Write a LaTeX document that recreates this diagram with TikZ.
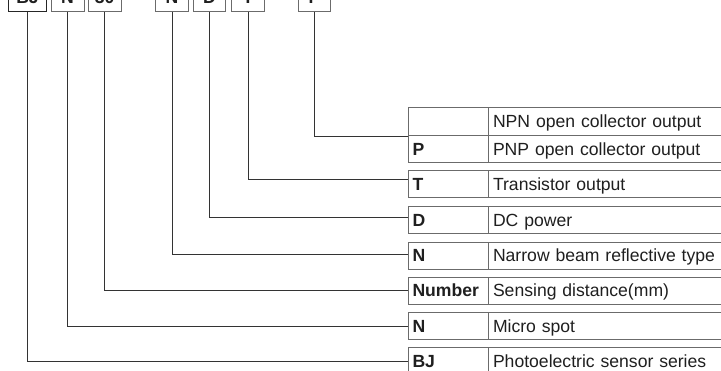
\documentclass[tikz,border=0pt]{standalone}
\usepackage{fontspec}
\setmainfont{Liberation Sans}
\newcommand\labelsize{\fontsize{17.6}{20}\selectfont}
\begin{document}
\begin{tikzpicture}[x=1pt,y=-1pt,
  frame/.style={draw=black!58, line width=1pt},
  lead/.style={draw=black!80, line width=1pt},
  codebox/.style={frame, minimum height=27pt, inner sep=0pt,
    text height=13pt, text depth=1pt, font=\labelsize\bfseries, text=black!88},
  keycell/.style={frame, anchor=north west, minimum height=27pt,
    text width=71.5pt, inner xsep=4pt, inner ysep=0pt, align=left,
    text height=13pt, text depth=1pt, font=\labelsize\bfseries, text=black!88},
  desccell/.style={frame, anchor=north west, minimum height=27pt,
    text width=232.5pt, inner xsep=5pt, inner ysep=0pt, align=left,
    text height=13pt, text depth=1pt, font=\labelsize, text=black!88}
]
\useasboundingbox (0,0) rectangle (721,370);
\clip (0,0) rectangle (721,370);

% model code boxes along the top
\node[codebox, draw=black!85, minimum width=38.4pt] (c1) at (27.5,-2.5) {BJ};
\node[codebox, minimum width=33pt]   (c2) at (67.5,-2.5)  {N};
\node[codebox, minimum width=32.7pt] (c3) at (104.7,-2.5) {30};
\node[codebox, minimum width=32.6pt] (c4) at (172,-2.5)   {N};
\node[codebox, minimum width=32.4pt] (c5) at (209.5,-2.5) {D};
\node[codebox, minimum width=32.6pt] (c6) at (248,-2.5)   {T};
\node[codebox, minimum width=32.4pt] (c7) at (314.5,-2.5) {P};

% output type table (two rows)
\node[keycell, minimum height=28pt] (k-npn) at (408,107) {};
\node[desccell, minimum height=28pt] (d-npn) at (487.5,107) {NPN open collector output};
\node[keycell] (k-p) at (408,135) {P};
\node[desccell] (d-p) at (487.5,135) {PNP open collector output};

% single-row tables
\node[keycell] (k-t) at (408,170) {T};
\node[desccell] (d-t) at (487.5,170) {Transistor output};
\node[keycell] (k-d) at (408,206) {D};
\node[desccell] (d-d) at (487.5,206) {DC power};
\node[keycell] (k-n) at (408,241.5) {N};
\node[desccell] (d-n) at (487.5,241.5) {Narrow beam reflective type};
\node[keycell] (k-num) at (408,276.7) {Number};
\node[desccell] (d-num) at (487.5,276.7) {Sensing distance(mm)};
\node[keycell] (k-ms) at (408,312) {N};
\node[desccell] (d-ms) at (487.5,312) {Micro spot};
\node[keycell] (k-bj) at (408,347) {BJ};
\node[desccell] (d-bj) at (487.5,347) {Photoelectric sensor series};

% leader lines from each code letter to its table
\draw[lead] (c7.south) |- (k-npn.south west);
\draw[lead] (c6.south) |- ([yshift=5pt]k-t.west);
\draw[lead] (c5.south) |- ([yshift=2.5pt]k-d.west);
\draw[lead] (c4.south) |- ([yshift=0.7pt]k-n.west);
\draw[lead] (c3.south) |- (k-num.west);
\draw[lead] (c2.south) |- (k-ms.west);
\draw[lead] (c1.south) |- (k-bj.west);
\end{tikzpicture}
\end{document}
